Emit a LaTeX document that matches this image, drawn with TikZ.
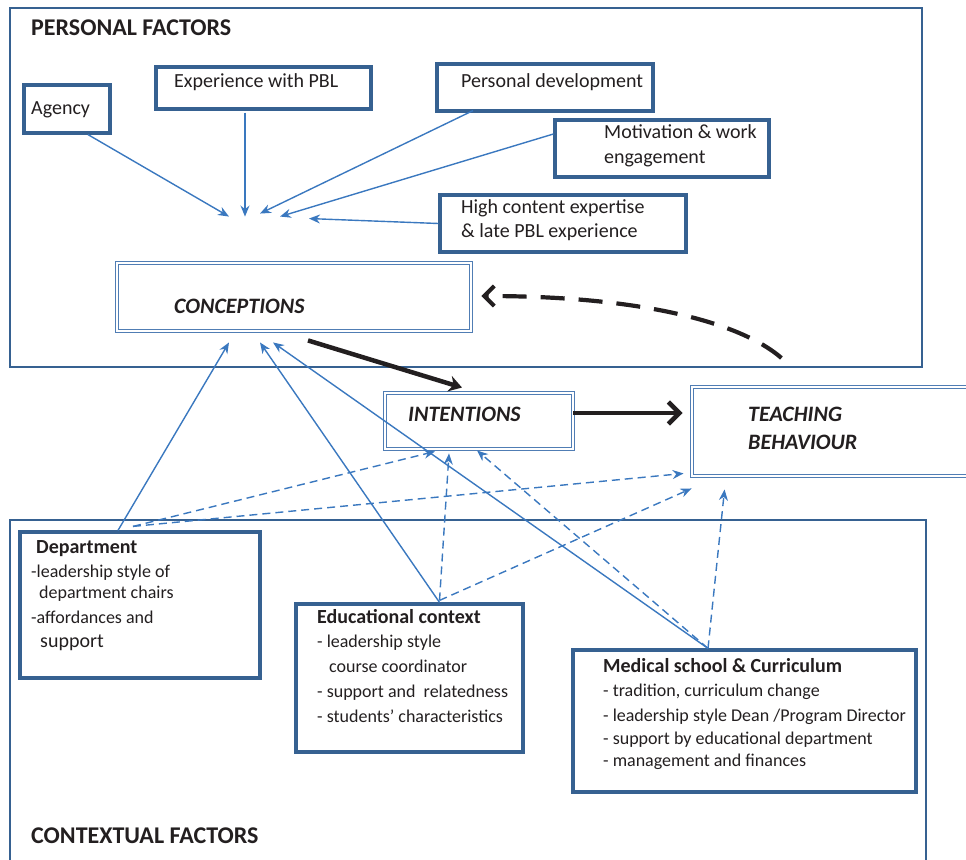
\documentclass[tikz,border=0pt]{standalone}
\usepackage{fontspec}
\setmainfont{Carlito}
\usetikzlibrary{arrows.meta,calc}
\definecolor{frameblue}{RGB}{54,97,145}
\definecolor{lineblue}{RGB}{58,120,191}
\definecolor{dblue}{RGB}{80,125,180}
\definecolor{ink}{RGB}{35,31,32}
\begin{document}
\begin{tikzpicture}[x=1pt,y=-1pt,
  frame/.style={draw=frameblue,line width=2.6pt},
  box/.style={draw=frameblue,line width=3.2pt,inner sep=0pt,fill=white},
  dbox/.style={draw=dblue,double=white,double distance=2pt,line width=0.9pt,inner sep=0pt,fill=white},
  txt/.style={anchor=base west,inner sep=0pt,text=ink,font=\fontsize{20}{24}\selectfont},
  ltxt/.style={anchor=base west,inner sep=0pt,text=ink,font=\fontsize{18}{22}\selectfont},
  htxt/.style={anchor=base west,inner sep=0pt,text=ink,font=\bfseries\fontsize{20}{24}\selectfont},
  head/.style={anchor=base west,inner sep=0pt,text=ink,font=\bfseries\fontsize{24}{28}\selectfont},
  key/.style={anchor=base west,inner sep=0pt,text=ink,font=\bfseries\itshape\fontsize{22}{26}\selectfont},
  conn/.style={draw=lineblue,line width=1.4pt,-{Stealth[length=11pt,width=9pt]}},
  dconn/.style={conn,dash pattern=on 8pt off 5pt},
  thick arrow/.style={draw=ink,line width=4.5pt}
]
\useasboundingbox (0,0) rectangle (966,859);
% frames
\draw[frame] (10,8) rectangle (922,367);
\draw[frame] (10,520) rectangle (926,900);
\node[head] (hpers) at (31,36) {PERSONAL FACTORS};
\node[head] (hcont) at (31,843) {CONTEXTUAL FACTORS};

% personal factor boxes
\node[box,minimum width=86pt,minimum height=48pt] (agency) at (67,109) {};
\node[txt] (tagency) at (31,114) {Agency};
\node[box,minimum width=215pt,minimum height=42pt] (exp) at (263.5,88) {};
\node[txt] (texp) at (174,88) {Experience with PBL};
\node[box,minimum width=216pt,minimum height=47pt] (persdev) at (545,87.5) {};
\node[txt] (tpersdev) at (461,88) {Personal development};
\node[box,minimum width=214pt,minimum height=57pt] (motiv) at (662,148.5) {};
\node[txt] (tmotiv1) at (604,138) {Motivation \& work};
\node[txt] (tmotiv2) at (604,163) {engagement};
\node[box,minimum width=246pt,minimum height=57pt] (high) at (563,223.5) {};
\node[txt] (thigh1) at (461,213) {High content expertise};
\node[txt] (thigh2) at (461,237) {\& late PBL experience};

% central boxes
\node[dbox,minimum width=354pt,minimum height=68pt] (conc) at (294,297) {};
\node[key] (tconc) at (174,313) {CONCEPTIONS};
\node[dbox,minimum width=188pt,minimum height=56pt] (intent) at (479,421) {};
\node[key] (tintent) at (408,421) {INTENTIONS};
\node[dbox,minimum width=308pt,minimum height=89pt] (teach) at (846,431.5) {};
\node[key] (tteach1) at (748,421) {TEACHING};
\node[key] (tteach2) at (748,449) {BEHAVIOUR};

% contextual boxes
\node[box,minimum width=240pt,minimum height=146pt] (dept) at (140,605) {};
\node[htxt] (tdept) at (36,553) {Department};
\node[ltxt] (tdept1) at (31,577) {-leadership style of};
\node[ltxt] (tdept2) at (39,598) {department chairs};
\node[ltxt] (tdept3) at (31,623) {-affordances and};
\node[txt] (tdept4) at (40,647) {support};

\node[box,minimum width=227pt,minimum height=148pt] (edu) at (409.5,678) {};
\node[htxt] (tedu) at (317,623) {Educational context};
\node[ltxt] (tedu1) at (317,647) {- leadership style};
\node[ltxt] (tedu2) at (329,672) {course coordinator};
\node[ltxt] (tedu3) at (317,697) {- support and\ \ relatedness};
\node[ltxt] (tedu4) at (317,722) {- students’ characteristics};

\node[box,minimum width=343pt,minimum height=142pt] (med) at (744.5,721) {};
\node[htxt] (tmed) at (603,672) {Medical school \& Curriculum};
\node[ltxt] (tmed1) at (603,696) {- tradition, curriculum change};
\node[ltxt] (tmed2) at (603,721) {- leadership style Dean /Program Director};
\node[ltxt] (tmed3) at (603,744) {- support by educational department};
\node[ltxt] (tmed4) at (603,766) {- management and finances};

% personal -> conceptions
\draw[conn] ($(agency.south)+(21,0)$) -- ($(conc.north)+(-65,-46)$);
\draw[conn] ($(exp.south)+(-18.5,2)$) -- ($(conc.north)+(-49,-46)$);
\draw[conn] ($(persdev.south)+(-72,-2)$) -- ($(conc.north)+(-34,-49)$);
\draw[conn] ($(motiv.west)+(0,-14.5)$) -- ($(conc.north)+(-14,-46)$);
\draw[conn] (high.west) -- ($(conc.north)+(15,-44)$);

% context -> conceptions
\draw[conn] ($(dept.north)+(-22,0)$) -- ($(conc.south)+(-65,11)$);
\draw[conn] ($(edu.north)+(30,0)$) -- ($(conc.south)+(-34,11)$);
\draw[conn] ($(med.north)+(-36.5,0)$) -- ($(conc.south)+(-21,11)$);

% context -> intentions / teaching (dashed)
\draw[dconn] ($(dept.north)+(-7,-4)$) -- ($(intent.south)+(-44,2)$);
\draw[dconn] ($(dept.north)+(-7,-4)$) -- ($(teach.south west)+(-8,-3)$);
\draw[dconn] ($(edu.north)+(30,-2)$) -- ($(intent.south)+(-30,4)$);
\draw[dconn] ($(edu.north)+(30,-2)$) -- ($(teach.south west)+(0,12)$);
\draw[dconn] ($(med.north)+(-36.5,0)$) -- ($(intent.south)+(-2,1)$);
\draw[dconn] ($(med.north)+(-36.5,0)$) -- ($(teach.south west)+(33,13)$);

% main black arrows
\draw[thick arrow,-{Stealth[length=13pt,width=16pt]}] ($(conc.south)+(14,9)$) -- ($(intent.north)+(-17,-5)$);
\draw[thick arrow,-{Straight Barb[length=11pt,width=22pt,line width=4.5pt]}] ($(intent.east)+(0,-8)$) -- ($(teach.west)+(-9,-18.5)$);
\draw[thick arrow,line width=4.2pt,dash pattern=on 24pt off 14pt,-{Straight Barb[length=10pt,width=20pt,line width=4pt]}]
  ($(conc.east)+(310,61)$) .. controls (740,322) and (640,296) .. ($(conc.east)+(10,-1)$);
\end{tikzpicture}
\end{document}
